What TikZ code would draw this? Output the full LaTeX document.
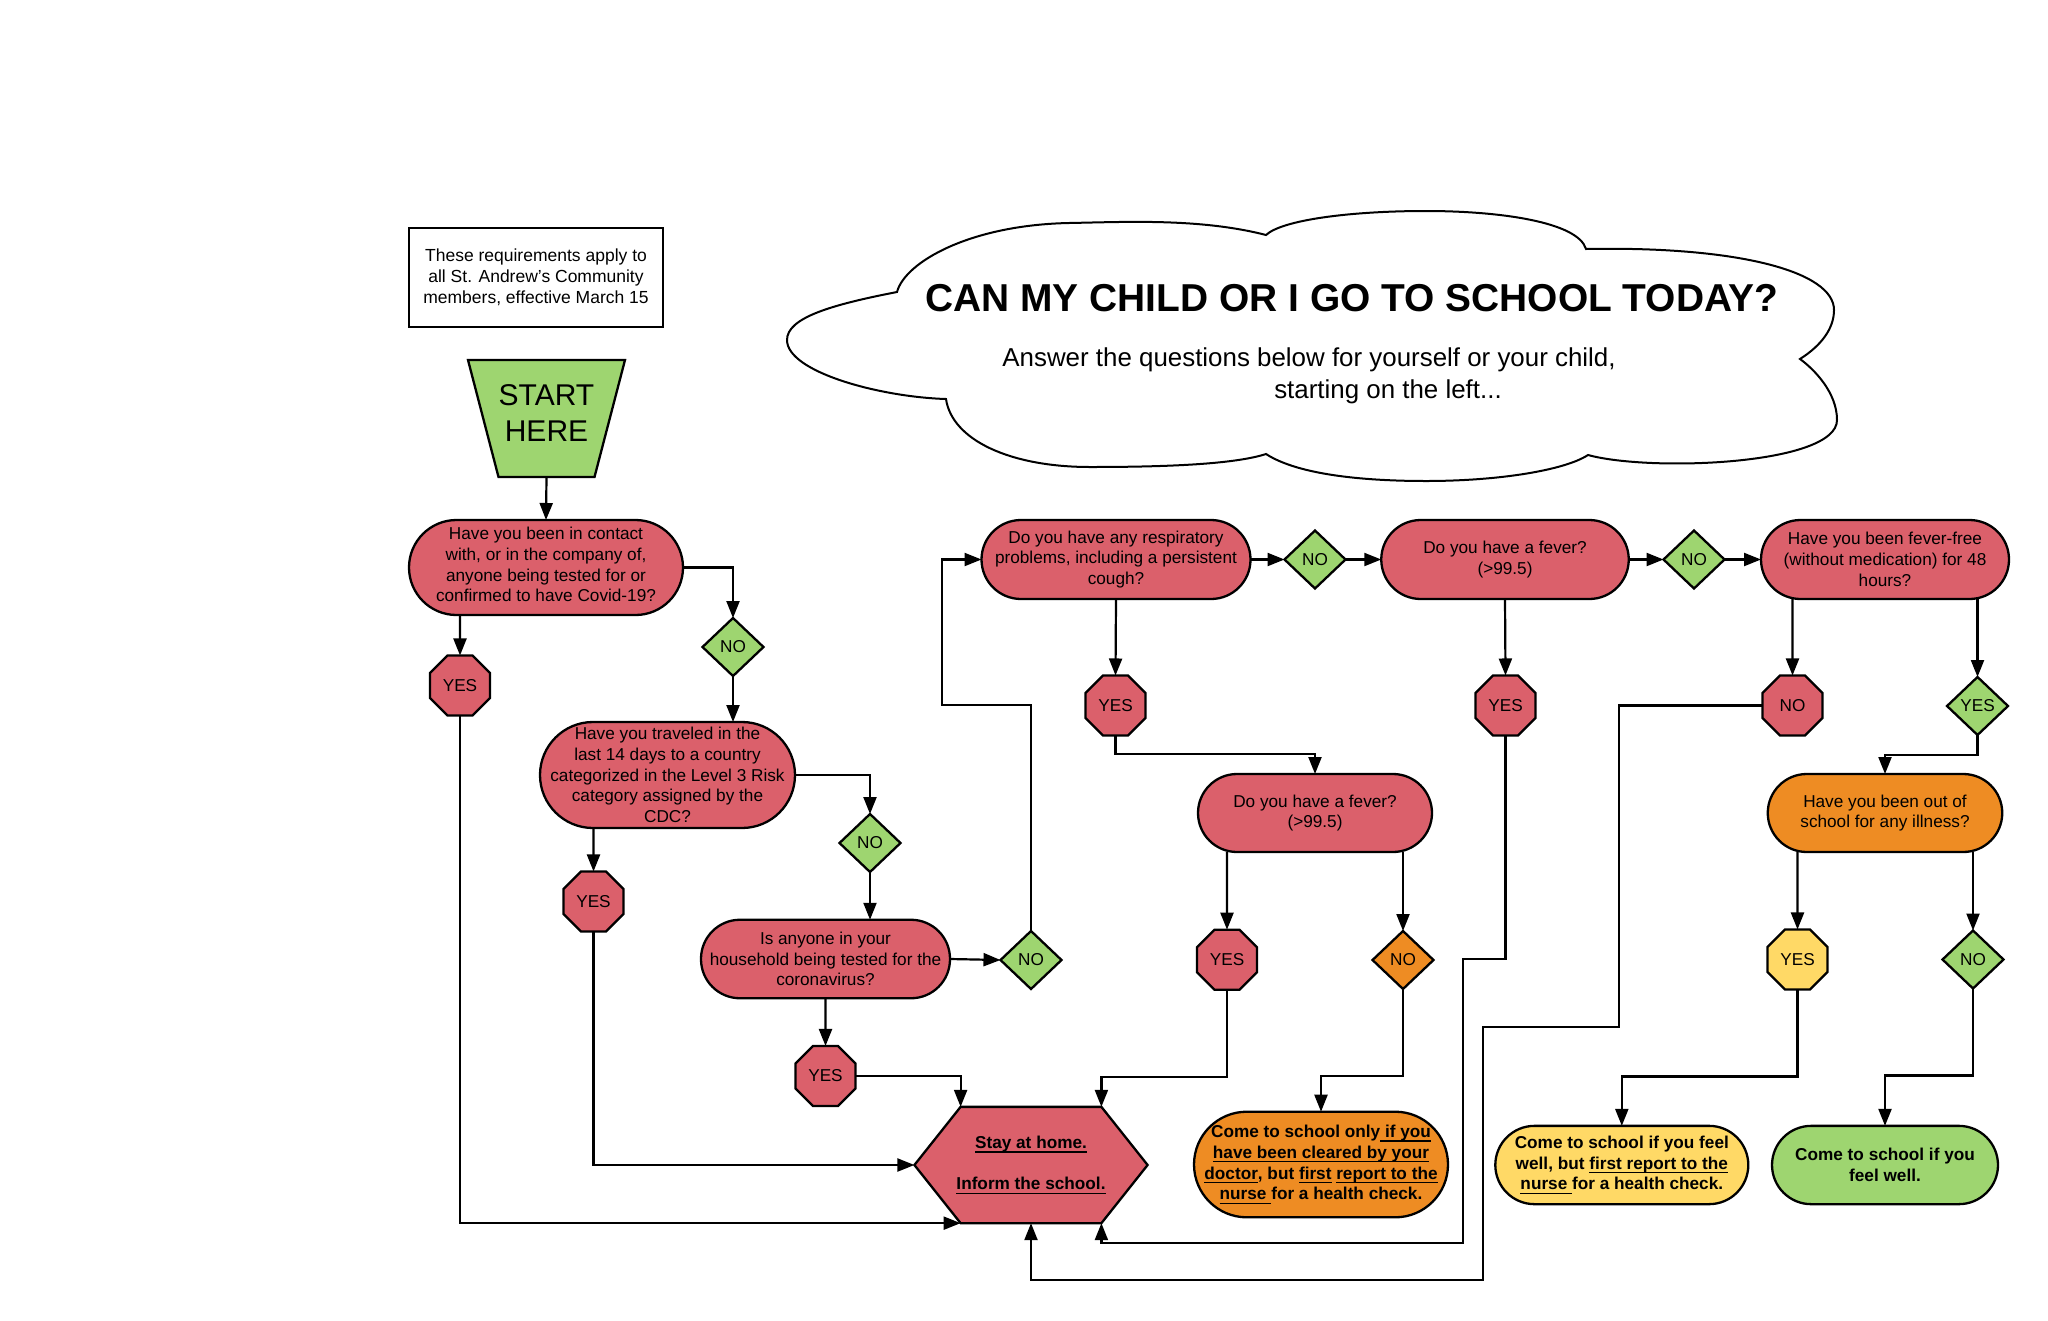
\documentclass[tikz,border=0pt]{standalone}
\usepackage{fontspec}
\setmainfont{Liberation Sans}
\usetikzlibrary{arrows.meta,shapes.geometric,backgrounds}
\definecolor{cred}{RGB}{219,96,107}
\definecolor{cgreen}{RGB}{158,213,112}
\definecolor{corange}{RGB}{238,140,35}
\definecolor{cyellow}{RGB}{255,217,102}
\newcommand\fsm{\fontsize{17.2}{20.7}\selectfont}
\newcommand\fsb{\bfseries\fontsize{17.2}{20.7}\selectfont}
\newsavebox\ulbox
\newcommand\ulx[1]{\sbox\ulbox{#1}\leavevmode\rlap{\vrule width\wd\ulbox height -2.8pt depth 4.0pt}\usebox\ulbox}
\begin{document}
\begin{tikzpicture}[x=1pt,y=-1pt,
  every node/.style={inner sep=0pt, outer sep=0pt},
  bord/.style={draw=black, line width=2.3pt},
  stad/.style={bord, rectangle, rounded corners=#1, align=center, font=\fsm},
  oct/.style={bord, regular polygon, regular polygon sides=8, minimum size=65pt, font=\fsm},
  dia/.style={bord, diamond, minimum width=61pt, minimum height=58pt, font=\fsm},
  arr/.style={line width=2.2pt, -{Triangle[length=17pt,width=13pt]}},
]
\useasboundingbox (0,0) rectangle (2048,1320);
\begin{pgfonlayer}{background}
\fill[white] (0,0) rectangle (2048,1320);
\end{pgfonlayer}

% cloud
\draw[line width=2pt, fill=white] (897,292)
 .. controls (830,305) and (787,318) .. (787,340)
 .. controls (787,372) and (880,397) .. (946,399)
 .. controls (952,440) and (1010,467) .. (1090,467)
 .. controls (1170,467) and (1235,464) .. (1266,454)
 .. controls (1300,476) and (1370,481) .. (1426,481)
 .. controls (1500,481) and (1565,470) .. (1588,455)
 .. controls (1650,472) and (1837,465) .. (1837,420)
 .. controls (1837,393) and (1815,370) .. (1800,359)
 .. controls (1822,345) and (1834,328) .. (1834,310)
 .. controls (1834,272) and (1740,246) .. (1586,249)
 .. controls (1578,222) and (1500,211) .. (1426,211)
 .. controls (1350,211) and (1282,220) .. (1266,235)
 .. controls (1200,218) and (1125,222) .. (1069,223)
 .. controls (970,225) and (905,262) .. (897,292) -- cycle;
\node[font=\bfseries\fontsize{38.9}{46}\selectfont] (title) at (1352,298) {CAN MY CHILD OR I GO TO SCHOOL TODAY?};
\node[font=\fontsize{25.9}{31}\selectfont] (sub1) at (1309,360) {Answer the questions below for yourself or your child,};
\node[font=\fontsize{25.9}{31}\selectfont] (sub2) at (1388,392) {starting on the left...};

% note
\node[bord, rectangle, minimum width=254pt, minimum height=99pt, align=center, font=\fontsize{17.5}{21}\selectfont] (note) at (536,277.5) {These requirements apply to\\all St. Andrew's Community\\members, effective March 15};

% start
\node[minimum width=157pt, minimum height=117pt, align=center, text depth=10pt, font=\fontsize{30}{36}\selectfont] (start) at (546.5,418.5) {START\\HERE};

% questions
\node[stad=47.5pt, fill=cred, minimum width=274pt, minimum height=95pt, text depth=6pt] (q1) at (546,567.5) {Have you been in contact\\with, or in the company of,\\anyone being tested for or\\confirmed to have Covid-19?};
\node[stad=53pt, fill=cred, minimum width=255pt, minimum height=106pt] (q2) at (667.5,775) {Have you traveled in the\\last 14 days to a country\\categorized in the Level 3 Risk\\category assigned by the\\CDC?};
\node[stad=39pt, fill=cred, minimum width=249pt, minimum height=78.5pt] (q3) at (825.5,959) {Is anyone in your\\household being tested for the\\coronavirus?};
\node[stad=39.5pt, fill=cred, minimum width=269pt, minimum height=79pt] (q4) at (1116,559.5) {Do you have any respiratory\\problems, including a persistent\\cough?};
\node[stad=39.5pt, fill=cred, minimum width=247.5pt, minimum height=79pt] (q5) at (1505,559.5) {Do you have a fever?\\(>99.5)};
\node[stad=39.5pt, fill=cred, minimum width=248pt, minimum height=79pt] (q6) at (1885,559.5) {Have you been fever-free\\(without medication) for 48\\hours?};
\node[stad=39pt, fill=cred, minimum width=234pt, minimum height=78pt] (q7) at (1315,813) {Do you have a fever?\\(>99.5)};
\node[stad=39pt, fill=corange, minimum width=234.5pt, minimum height=78pt] (q8) at (1885,813) {Have you been out of\\school for any illness?};

% answers
\node[oct, fill=cred] (yes1) at (460,685.5) {YES};
\node[dia, fill=cgreen] (no1) at (733,647) {NO};
\node[oct, fill=cred] (yes2) at (593.5,901.5) {YES};
\node[dia, fill=cgreen] (no2) at (870,843) {NO};
\node[dia, fill=cgreen] (no3) at (1031,960) {NO};
\node[oct, fill=cred] (yes3) at (825.5,1076) {YES};
\node[dia, fill=cgreen] (no4) at (1315,559.5) {NO};
\node[dia, fill=cgreen] (no5) at (1694,559.5) {NO};
\node[oct, fill=cred] (yes4) at (1115.5,705.5) {YES};
\node[oct, fill=cred] (yes5) at (1505.5,705.5) {YES};
\node[oct, fill=cred] (no6) at (1792.5,705.5) {NO};
\node[dia, fill=cgreen] (yes6) at (1977.5,706) {YES};
\node[oct, fill=cred] (yes7) at (1227,959.7) {YES};
\node[dia, fill=corange] (no7) at (1403,960) {NO};
\node[oct, fill=cyellow] (yes8) at (1797.5,959.5) {YES};
\node[dia, fill=cgreen] (no8) at (1973,959.5) {NO};

% outcomes
\node[minimum width=233.2pt, minimum height=116.3pt, align=center, font=\fsb] (stay) at (1031,1165) {\ulx{Stay at home.}\\[20.7pt]\ulx{Inform the school.}};
\node[stad=52.8pt, fill=corange, minimum width=254pt, minimum height=105.6pt, font=\fsb] (come1) at (1321,1164.5) {Come to school only\ulx{ if you}\\\ulx{have been cleared by your}\\\ulx{doctor}, but \ulx{first} \ulx{report to the}\\\ulx{nurse }for a health check.};
\node[stad=39.2pt, fill=cyellow, minimum width=253pt, minimum height=78.3pt, font=\fsb] (come2) at (1621.8,1165) {Come to school if you feel\\well, but \ulx{first report to the}\\\ulx{nurse }for a health check.};
\node[stad=39.2pt, fill=cgreen, minimum width=226pt, minimum height=78.3pt, font=\fsb] (come3) at (1885,1165) {Come to school if you\\feel well.};

\coordinate (stay-tl) at ([xshift=46.2pt]stay.north west);
\coordinate (stay-tr) at ([xshift=-46.2pt]stay.north east);
\coordinate (stay-bl) at ([xshift=46.2pt]stay.south west);
\coordinate (stay-br) at ([xshift=-46.2pt]stay.south east);
\coordinate (st-bl) at ([xshift=30.5pt]start.south west);
\coordinate (st-br) at ([xshift=-30.5pt]start.south east);

\begin{pgfonlayer}{background}
\filldraw[bord, fill=cred] (stay.west) -- (stay-tl) -- (stay-tr) -- (stay.east) -- (stay-br) -- (stay-bl) -- cycle;
\filldraw[bord, fill=cgreen] (start.north west) -- (start.north east) -- (st-br) -- (st-bl) -- cycle;
\end{pgfonlayer}

% route coordinates
\coordinate (c1) at (942,705);
\coordinate (r1) at (1462.8,959.3);
\coordinate (r2) at (1101.4,1243);
\coordinate (n1) at (1619,1026.7);
\coordinate (n2) at (1482.7,1280);

% connectors
\draw[arr] (start.south) -- (q1.north);
\draw[arr] (yes1 |- q1.south) -- (yes1.north);
\draw[arr] (q1.east) -| (no1.north);
\draw[arr] (no1.south) -- (no1.south |- q2.north);
\draw[arr] (yes2 |- q2.south) -- (yes2.north);
\draw[arr] (q2.east) -| (no2.north);
\draw[arr] (no2.south) -- (no2.south |- q3.north);
\draw[arr] (q3.east) -- (no3.west);
\draw[arr] (q3.south) -- (yes3.north);
\draw[arr] (no3.north) |- (c1) |- (q4.west);
\draw[arr] (q4.east) -- (no4.west);
\draw[arr] (no4.east) -- (q5.west);
\draw[arr] (q5.east) -- (no5.west);
\draw[arr] (no5.east) -- (q6.west);
\draw[arr] (q4.south) -- (yes4.north);
\draw[arr] (yes4.south) -- ++(0,18.5) -| (q7.north);
\draw[arr] (q5.south) -- (yes5.north);
\draw[arr] (yes5.south) |- (r1) |- (r2) -- (stay-br);
\draw[arr] (no6 |- q6.south) -- (no6.north);
\draw[arr] (yes6 |- q6.south) -- (yes6.north);
\draw[arr] (no6.west) -| (n1) -| (n2) -| (stay.south);
\draw[arr] (yes6.south) -- ++(0,20) -| (q8.north);
\draw[arr] (yes7 |- q7.south) -- (yes7.north);
\draw[arr] (no7 |- q7.south) -- (no7.north);
\draw[arr] (yes7.south) -- ++(0,87) -| (stay-tr);
\draw[arr] (no7.south) -- ++(0,87) -| (come1.north);
\draw[arr] (yes3.east) -| (stay-tl);
\draw[arr] (yes2.south) |- (stay.west);
\draw[arr] (yes1.south) |- (stay-bl);
\draw[arr] (yes8 |- q8.south) -- (yes8.north);
\draw[arr] (no8 |- q8.south) -- (no8.north);
\draw[arr] (yes8.south) -- ++(0,87) -| (come2.north);
\draw[arr] (no8.south) -- ++(0,87) -| (come3.north);
\end{tikzpicture}
\end{document}
